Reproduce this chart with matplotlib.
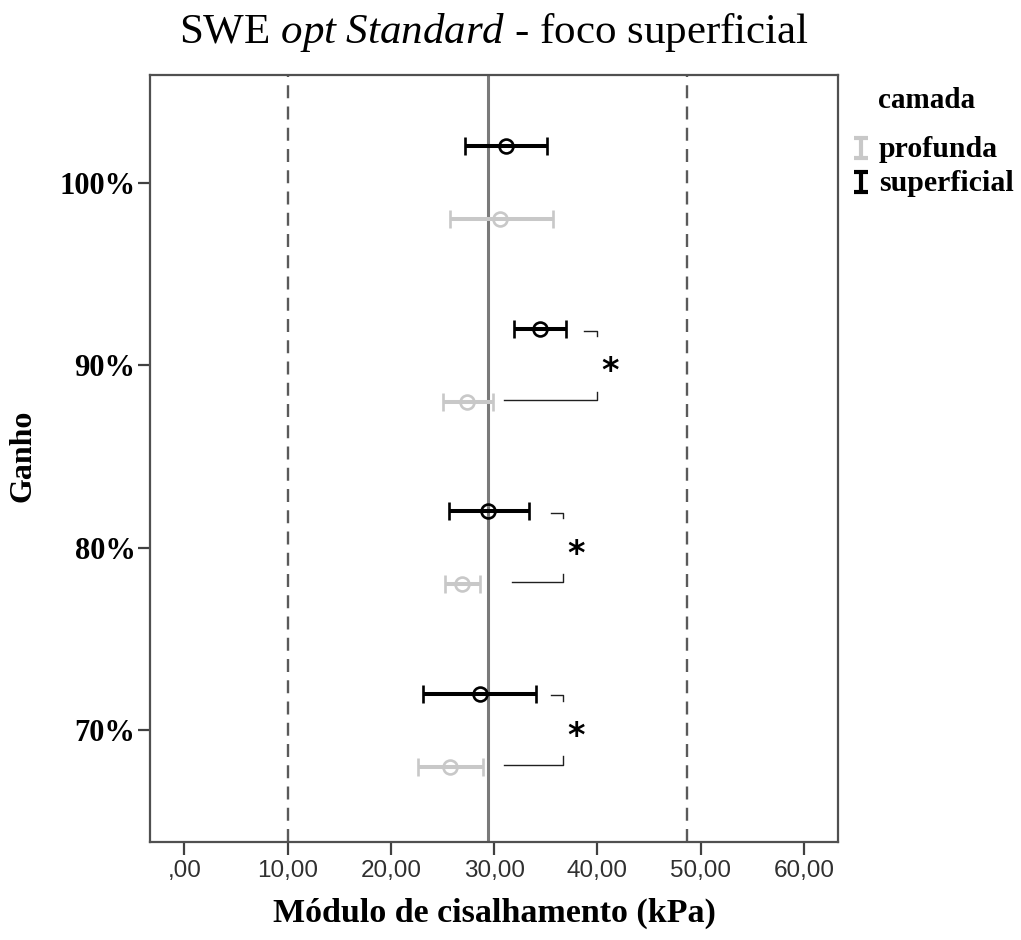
import matplotlib
matplotlib.use("Agg")
import matplotlib.pyplot as plt
from matplotlib.path import Path
from matplotlib.lines import Line2D

plt.rcParams["mathtext.fontset"] = "custom"
plt.rcParams["mathtext.rm"] = "Liberation Serif"
plt.rcParams["mathtext.it"] = "Liberation Serif:italic"

# ---- data ----
ganho = ["70%", "80%", "90%", "100%"]
sup_mean = [28.6, 29.4, 34.4, 31.2]
sup_low = [23.1, 25.6, 31.9, 27.2]
sup_high = [34.1, 33.4, 37.0, 35.1]
prof_mean = [25.7, 26.85, 27.4, 30.6]
prof_low = [22.6, 25.2, 25.1, 25.7]
prof_high = [28.9, 28.6, 29.85, 35.7]
ref_dashed = [10.0, 48.7]
ref_solid = 29.4
x_ticks = [0, 10, 20, 30, 40, 50, 60]
x_ticklabels = [",00", "10,00", "20,00", "30,00", "40,00", "50,00", "60,00"]
legend_labels = ["profunda", "superficial"]
# significance brackets
sig_cat = [0, 1, 2]
sig_bottom_start = [31.0, 31.7, 31.0]
sig_top_start = [35.5, 35.5, 38.7]
sig_x = [36.7, 36.7, 39.95]
sig_star_x = [37.9, 37.9, 41.2]

serif = "Liberation Serif"
sans = "Liberation Sans"

W, H = 1021, 940
fig = plt.figure(figsize=(W / 100, H / 100), dpi=100)
ax = fig.add_axes([150/W, 1-842/H, (838-150)/W, (842-75)/H])

off = 0.2
black = "#000000"
grey = "#c8c8c8"
ypos = list(range(len(ganho)))

eb_kw = dict(fmt="o", mfc="none", ms=10, mew=1.9, elinewidth=2.9, capsize=6.5,
             capthick=2.9)
for y, lo, hi, m in zip(ypos, prof_low, prof_high, prof_mean):
    ax.errorbar([m], [y - off], xerr=[[m - lo], [hi - m]], color=grey, mec=grey,
                zorder=3, **eb_kw)
for y, lo, hi, m in zip(ypos, sup_low, sup_high, sup_mean):
    ax.errorbar([m], [y + off], xerr=[[m - lo], [hi - m]], color=black, mec=black,
                zorder=4, **eb_kw)

for v in ref_dashed:
    ax.axvline(v, color="#5a5a5a", lw=1.7, ls=(0, (5.5, 3.5)), zorder=1)
ax.axvline(ref_solid, color="#7a7a7a", lw=2.2, zorder=1)

# brackets
for c, bs, ts, bx, sx in zip(sig_cat, sig_bottom_start, sig_top_start, sig_x, sig_star_x):
    yt = c + 0.19
    yb = c - 0.19
    ax.plot([ts, bx, bx], [yt, yt, yt - 0.03], color="#202020", lw=1.0, zorder=2)
    ax.plot([bs, bx, bx], [yb, yb, yb + 0.045], color="#202020", lw=1.0, zorder=2)
    ax.text(sx, c - 0.035, "*", ha="center", va="center", fontsize=24,
            fontweight="bold", family="DejaVu Sans")

ax.set_xlim(-3.32, 63.3)
ax.set_ylim(-0.614, 3.592)
ax.set_xticks(x_ticks)
ax.set_xticklabels(x_ticklabels, family=sans, fontsize=17.5, color="#303030")
ax.set_yticks(ypos)
ax.set_yticklabels(ganho, family=serif, fontsize=22, fontweight="bold")
ax.tick_params(axis="both", direction="out", length=9, width=1.6, color="#404040")
ax.tick_params(axis="x", pad=4)
ax.tick_params(axis="y", pad=1.5)
for s in ax.spines.values():
    s.set_color("#505050")
    s.set_linewidth(1.6)

fig.text(494/W, 1-922/H, "Módulo de cisalhamento (kPa)", family=serif, fontsize=24.5,
         fontweight="bold", ha="center", va="baseline")
fig.text(23/W, 1-456/H, "Ganho", family=serif, fontsize=23, fontweight="bold",
         rotation=90, ha="center", va="center")

fig.text(494/W, 1-43/H, "SWE $\\it{opt\\ Standard}$ - foco superficial",
         ha="center", va="baseline", family=serif, fontsize=31)

# legend (manual, to match layout)
ibeam = Path([(-0.65, 1), (0.65, 1), (0, 1), (0, -1), (-0.65, -1), (0.65, -1)],
             [Path.MOVETO, Path.LINETO, Path.MOVETO, Path.LINETO, Path.MOVETO, Path.LINETO])
fig.text(878/W, 1-108/H, "camada", family=serif, fontsize=21, fontweight="bold",
         ha="left", va="baseline")
for lab, col, yb in zip(legend_labels, [grey, black], [157, 191]):
    fig.add_artist(Line2D([861/W], [1-(yb-9)/H], ls="none", marker=ibeam, ms=15,
                          mew=3.0, mec=col, color=col, transform=fig.transFigure))
    fig.text(879/W, 1-yb/H, lab, family=serif, fontsize=21.5, fontweight="bold",
             ha="left", va="baseline")

fig.savefig("out.png", dpi=100)
